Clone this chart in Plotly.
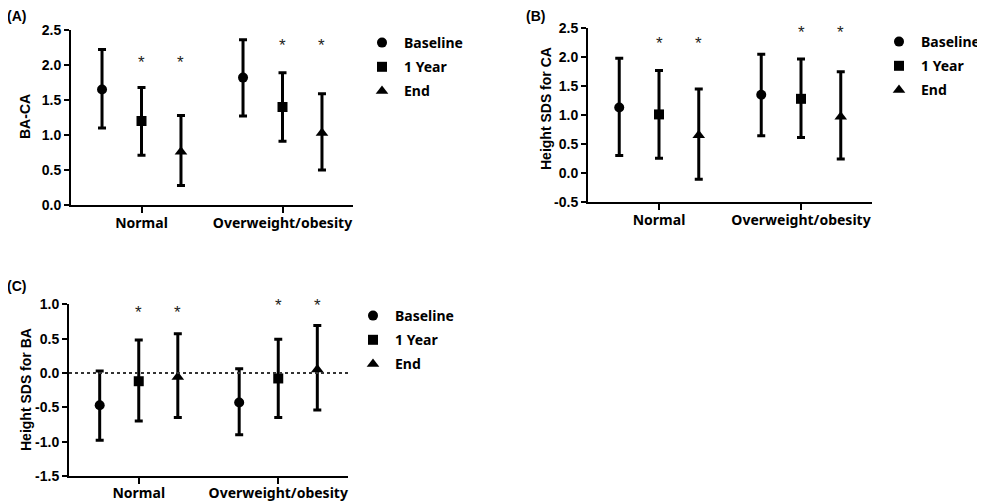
import plotly.graph_objects as go

# page has an 8px body margin; figure is sized to fill the remaining window
OX, OY = 8, 8
W, H = 985 - OX, 502 - OY

groups = ["Normal", "Overweight/obesity"]
timepoints = ["Baseline", "1 Year", "End"]
symbols = ["circle", "square", "triangle-up"]

# Panel A: BA-CA  (mean, upper end, lower end) per timepoint, per group
a_mean = {"Baseline": [1.65, 1.82], "1 Year": [1.20, 1.40], "End": [0.76, 1.03]}
a_up = {"Baseline": [2.22, 2.36], "1 Year": [1.68, 1.89], "End": [1.28, 1.59]}
a_lo = {"Baseline": [1.10, 1.27], "1 Year": [0.71, 0.91], "End": [0.28, 0.50]}
a_star = [2.03, 2.28]

# Panel B: Height SDS for CA
b_mean = {"Baseline": [1.13, 1.35], "1 Year": [1.01, 1.28], "End": [0.65, 0.97]}
b_up = {"Baseline": [1.98, 2.05], "1 Year": [1.77, 1.97], "End": [1.45, 1.75]}
b_lo = {"Baseline": [0.30, 0.64], "1 Year": [0.25, 0.61], "End": [-0.11, 0.24]}
b_star = [2.24, 2.43]

# Panel C: Height SDS for BA
c_mean = {"Baseline": [-0.47, -0.43], "1 Year": [-0.12, -0.08], "End": [-0.06, 0.05]}
c_up = {"Baseline": [0.03, 0.06], "1 Year": [0.48, 0.49], "End": [0.57, 0.69]}
c_lo = {"Baseline": [-0.98, -0.90], "1 Year": [-0.70, -0.65], "End": [-0.65, -0.54]}
c_star = [0.88, 0.98]

a_ticks = [0.0, 0.5, 1.0, 1.5, 2.0, 2.5]
b_ticks = [-0.5, 0.0, 0.5, 1.0, 1.5, 2.0, 2.5]
c_ticks = [-1.5, -1.0, -0.5, 0.0, 0.5, 1.0]

offsets = {"Baseline": -0.28, "1 Year": 0.0, "End": 0.28}


def px(x):
    return (x - OX) / W


def py(y):
    return 1 - (y - OY) / H


fig = go.Figure()

AX_FONT = dict(family="Liberation Sans, Arial", size=14, color="black", weight="bold")
XT_FONT = dict(family="Noto Sans, Open Sans", size=14, color="black", weight="bold")
LEG_FONT = dict(family="Noto Sans, Open Sans", size=14, color="black", weight="bold")
STAR_FONT = dict(family="Liberation Sans, Arial", size=17, color="#222222")


def add_panel(mean, up, lo, star, xa, ya, legend):
    for tp, sym in zip(timepoints, symbols):
        xs = [i + offsets[tp] for i in range(len(groups))]
        m = mean[tp]
        fig.add_trace(go.Scatter(
            x=xs, y=m, mode="markers", name=tp, legendgroup=legend + tp,
            marker=dict(symbol=sym, size=10 if sym != "triangle-up" else 11, color="black"),
            error_y=dict(type="data", symmetric=False,
                         array=[u - v for u, v in zip(up[tp], m)],
                         arrayminus=[v - l for v, l in zip(m, lo[tp])],
                         color="black", thickness=3, width=4),
            xaxis=xa, yaxis=ya, legend=legend, showlegend=True, cliponaxis=False,
        ))
    for tp in ["1 Year", "End"]:
        for i in range(len(groups)):
            fig.add_annotation(x=i + offsets[tp], y=star[i], xref=xa, yref=ya,
                               text="*", showarrow=False, font=STAR_FONT,
                               xanchor="center", yanchor="middle")


add_panel(a_mean, a_up, a_lo, a_star, "x", "y", "legend")
add_panel(b_mean, b_up, b_lo, b_star, "x2", "y2", "legend2")
add_panel(c_mean, c_up, c_lo, c_star, "x3", "y3", "legend3")


def xaxis(d0, d1, anchor, standoff):
    return dict(domain=[px(d0), px(d1)], anchor=anchor, range=[-0.5, 1.5],
                tickvals=list(range(len(groups))), ticktext=groups,
                showline=True, linecolor="black", linewidth=2, automargin=False,
                ticks="outside", ticklen=6, tickwidth=2, tickcolor="black",
                ticklabelstandoff=standoff,
                showgrid=False, zeroline=False, tickfont=XT_FONT)


def yaxis(top, bottom, anchor, rng, ticks):
    return dict(domain=[py(bottom), py(top)], anchor=anchor, range=rng,
                tickvals=ticks, ticktext=[f"{t:.1f}" for t in ticks],
                showline=True, linecolor="black", linewidth=2, automargin=False,
                ticks="outside", ticklen=5, tickwidth=2, tickcolor="black",
                showgrid=False, zeroline=False, tickfont=AX_FONT)


def legend(xpx, ypx, anchor="left"):
    return dict(x=px(xpx), xanchor=anchor, y=py(ypx), yanchor="top",
                font=LEG_FONT, bgcolor="rgba(0,0,0,0)", itemwidth=34,
                tracegroupgap=3)


fig.update_layout(
    width=W, height=H,
    margin=dict(l=0, r=0, t=0, b=0, autoexpand=False),
    paper_bgcolor="white", plot_bgcolor="white",
    xaxis=xaxis(71, 353, "y", -2),
    yaxis=yaxis(30, 205, "x", [0, 2.5], a_ticks),
    xaxis2=xaxis(588, 872, "y2", -2),
    yaxis2=yaxis(28.3, 201.7, "x2", [-0.5, 2.5], b_ticks),
    xaxis3=xaxis(69, 348, "y3", -3),
    yaxis3=yaxis(304.3, 476, "x3", [-1.5, 1.0], c_ticks),
    legend=legend(360, 27),
    legend2=legend(985, 26, "right"),
    legend3=legend(351, 300),
    showlegend=True,
)

# dotted reference line at 0 in panel C
fig.add_shape(type="line", xref="x3 domain", yref="y3", x0=0, x1=1, y0=0, y1=0,
              line=dict(color="#333333", width=2, dash="dot"))

title_font = dict(family="Liberation Sans, Arial", size=14, color="black", weight="bold")
for txt, x, y in [("BA-CA", 25, 117), ("Height SDS for CA", 546, 109), ("Height SDS for BA", 26, 390)]:
    fig.add_annotation(text=txt, x=px(x), y=py(y), xref="paper", yref="paper",
                       xanchor="center", yanchor="middle",
                       showarrow=False, textangle=-90, font=title_font)
for txt, x, y in [("(A)", 16, 16), ("(B)", 535, 16), ("(C)", 16, 286)]:
    fig.add_annotation(text=txt, x=px(x), y=py(y), xref="paper", yref="paper",
                       xanchor="center", yanchor="middle",
                       showarrow=False, font=title_font)

fig.write_html("out.html")
